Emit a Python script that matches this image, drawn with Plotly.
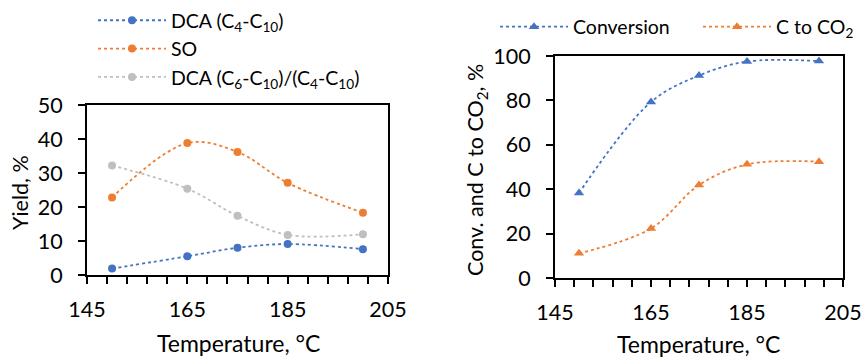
import plotly.graph_objects as go

temps = [150, 165, 175, 185, 200]
dca_c4_c10 = [1.9, 5.5, 8.0, 9.1, 7.6]
so = [22.8, 38.8, 36.2, 27.1, 18.3]
dca_ratio = [32.2, 25.4, 17.4, 11.8, 12.0]
conversion = [38.3, 79.3, 91.2, 97.5, 97.7]
c_to_co2 = [11.1, 22.3, 41.9, 51.2, 52.4]

BLUE = "#4472C4"
ORANGE = "#ED7D31"
GRAY = "#BFBFBF"
FONT = "Lato"
TICK = 21.5
XTITLE = 23
YTITLE = 21.5
LEG = 19.5

fig = go.Figure()

def add(x, y, name, color, symbol, xa, ya, legend):
    fig.add_trace(go.Scatter(
        x=x, y=y, name=name, mode="lines+markers",
        line=dict(color=color, width=1.8, dash="dot", shape="spline", smoothing=1),
        marker=dict(color=color, size=8 if symbol == "circle" else 9, symbol=symbol),
        xaxis=xa, yaxis=ya, legend=legend,
    ))

add(temps, dca_c4_c10, "DCA (C<sub>4</sub>-C<sub>10</sub>)", BLUE, "circle", "x", "y", "legend")
add(temps, so, "SO", ORANGE, "circle", "x", "y", "legend")
add(temps, dca_ratio, "DCA (C<sub>6</sub>-C<sub>10</sub>)/(C<sub>4</sub>-C<sub>10</sub>)", GRAY, "circle", "x", "y", "legend")
add(temps, conversion, "Conversion", BLUE, "triangle-up", "x2", "y2", "legend2")
add(temps, c_to_co2, "C to CO<sub>2</sub>", ORANGE, "triangle-up", "x2", "y2", "legend3")

W, H = 861, 358

def xax(domain, anchor):
    return dict(
        domain=domain, anchor=anchor, range=[145, 205], tick0=145, dtick=20,
        showline=True, linecolor="black", linewidth=2, mirror=True,
        ticks="outside", ticklen=7, tickwidth=2, tickcolor="black",
        minor=dict(tick0=145, dtick=4, ticks="outside", ticklen=7, tickwidth=2, tickcolor="black"),
        showgrid=False, zeroline=False, ticklabelstandoff=7, automargin=False,
        ticklabeloverflow="allow",
        tickfont=dict(size=TICK),
    )

def yax(domain, anchor, rng, dtick):
    return dict(
        domain=domain, anchor=anchor, range=rng, dtick=dtick,
        showline=True, linecolor="black", linewidth=2, mirror=True,
        ticks="outside", ticklen=7, tickwidth=2, tickcolor="black",
        showgrid=False, zeroline=False, ticklabelstandoff=11, automargin=False,
        ticklabeloverflow="allow",
        tickfont=dict(size=TICK),
    )

titles = [
    dict(text="Temperature, °C", x=238 / W, y=1 - 343 / H, textangle=0, size=XTITLE),
    dict(text="Temperature, °C", x=698 / W, y=1 - 344 / H, textangle=0, size=XTITLE),
    dict(text="Yield, %", x=20 / W, y=1 - 193 / H, textangle=-90, size=YTITLE),
    dict(text="Conv. and C to CO<sub>2</sub>, %", x=476 / W, y=1 - 170 / H, textangle=-90, size=YTITLE),
]
annotations = [
    dict(text=t["text"], x=t["x"], y=t["y"], xref="paper", yref="paper",
         xanchor="center", yanchor="middle", showarrow=False, textangle=t["textangle"],
         font=dict(size=t["size"], family=FONT, color="black"))
    for t in titles
]

fig.update_layout(
    width=W, height=H,
    margin=dict(l=0, r=0, t=0, b=0, autoexpand=False),
    paper_bgcolor="white", plot_bgcolor="white",
    font=dict(family=FONT, size=LEG, color="black"),
    xaxis=xax([87 / W, 388 / W], "y"),
    yaxis=yax([83 / H, 253 / H], "x", [0, 50], 10),
    xaxis2=xax([555 / W, 843 / W], "y2"),
    yaxis2=yax([80 / H, 302 / H], "x2", [0, 100], 20),
    annotations=annotations,
    legend=dict(
        x=93 / W, y=0.997, xanchor="left", yanchor="top",
        orientation="v", bgcolor="rgba(0,0,0,0)", tracegroupgap=0,
        font=dict(size=LEG), itemwidth=68,
    ),
    legend2=dict(
        x=495 / W, y=0.979, xanchor="left", yanchor="top",
        orientation="v", bgcolor="rgba(0,0,0,0)",
        font=dict(size=LEG), itemwidth=68,
    ),
    legend3=dict(
        x=698 / W, y=0.979, xanchor="left", yanchor="top",
        orientation="v", bgcolor="rgba(0,0,0,0)",
        font=dict(size=LEG), itemwidth=68,
    ),
    showlegend=True,
)

fig.write_html("out.html")
